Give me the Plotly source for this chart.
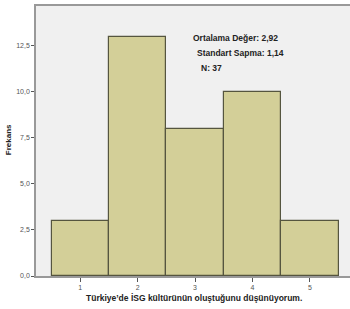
import plotly.graph_objects as go

categories = [1, 2, 3, 4, 5]
frequencies = [3, 13, 8, 10, 3]
y_tick_vals = [0, 2.5, 5.0, 7.5, 10.0, 12.5]
y_tick_text = ["0,0", "2,5", "5,0", "7,5", "10,0", "12,5"]
x_tick_text = ["1", "2", "3", "4", "5"]
stats_lines = ["Ortalama Değer: 2,92", "Standart Sapma: 1,14", "N: 37"]
x_title = "Türkiye’de İSG kültürünün oluştuğunu düşünüyorum."
y_title = "Frekans"

fig = go.Figure()
fig.add_trace(go.Bar(
    x=categories, y=frequencies, width=1,
    marker=dict(color="#d3cf98", line=dict(color="#55553f", width=1.2)),
    hoverinfo="x+y",
))

font_family = "Liberation Sans, Arial, sans-serif"

stat_x = [2.93, 3.0, 3.06]
stat_y = [12.92, 12.1, 11.29]
for t, sx, sy in zip(stats_lines, stat_x, stat_y):
    fig.add_annotation(x=sx, y=sy, xref="x", yref="y", text="<b>" + t + "</b>",
                       showarrow=False, xanchor="left", yanchor="middle",
                       font=dict(family=font_family, size=8.5, color="#222222"))

# axis titles placed as annotations (pixel-accurate)
fig.add_annotation(x=(194 - 36) / 314, y=0, xref="paper", yref="paper",
                   yshift=-22, text="<b>" + x_title + "</b>", showarrow=False,
                   xanchor="center", yanchor="middle",
                   font=dict(family=font_family, size=8.5, color="#222222"))
fig.add_annotation(x=0, y=(275.7 - 140) / 269.7, xref="paper", yref="paper",
                   xshift=-28, text="<b>" + y_title + "</b>", showarrow=False,
                   textangle=-90, xanchor="center", yanchor="middle",
                   font=dict(family=font_family, size=8, color="#222222"))

fig.update_layout(
    width=350, height=309,
    margin=dict(l=36, r=0, t=6, b=33, autoexpand=False),
    paper_bgcolor="white", plot_bgcolor="#f0f0f0",
    showlegend=False, bargap=0,
    font=dict(family=font_family),
)
fig.update_xaxes(
    range=[0.228, 5.70], tickvals=categories, ticktext=x_tick_text,
    ticks="outside", ticklen=4, tickcolor="#555555", tickwidth=1,
    tickfont=dict(size=7, color="#555555"),
    showgrid=False, zeroline=False, automargin=False,
    showline=True, linecolor="#999999", linewidth=1.5, mirror=True,
)
fig.update_yaxes(
    range=[0, 14.66], tickvals=y_tick_vals, ticktext=y_tick_text,
    ticks="outside", ticklen=3, tickcolor="#555555", tickwidth=1,
    tickfont=dict(size=7, color="#555555"),
    showgrid=False, zeroline=False, automargin=False,
    showline=True, linecolor="#999999", linewidth=1.5,
)

fig.write_html("out.html", config={"displayModeBar": False},
               post_script="document.body.style.margin='0';document.body.style.overflow='hidden';")
